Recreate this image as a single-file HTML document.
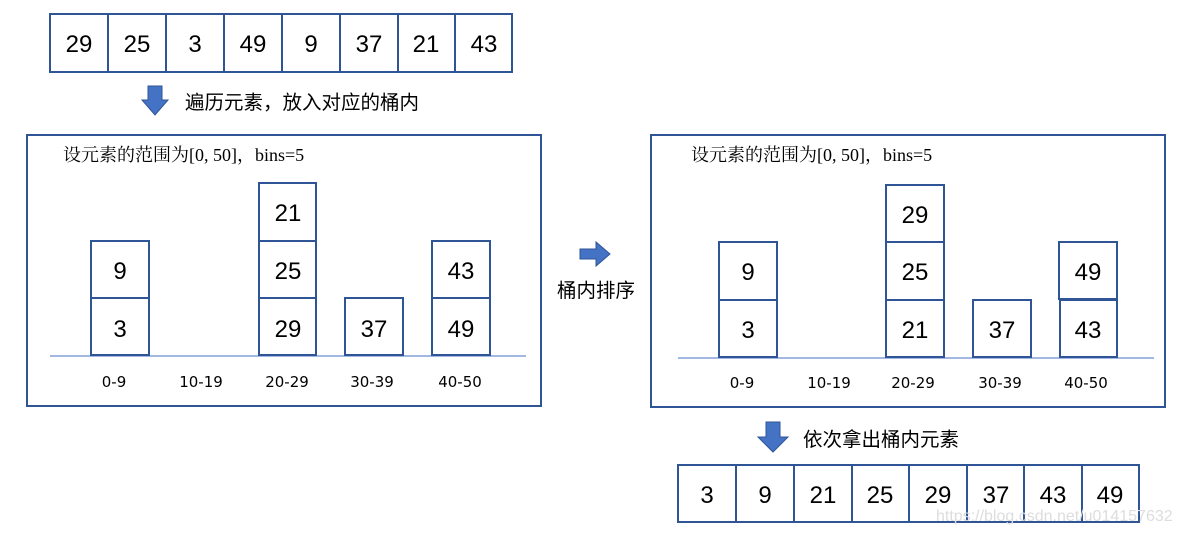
<!DOCTYPE html>
<html><head><meta charset="utf-8"><style>
html,body{margin:0;padding:0;background:#fff;}
svg{display:block;}
.n{font-family:"Liberation Sans",sans-serif;font-size:24px;fill:#000;text-anchor:middle;}
.l{font-family:"DejaVu Sans","Liberation Sans",sans-serif;font-size:15px;fill:#000;text-anchor:middle;}
.c{font-family:"Liberation Sans","Noto Sans CJK SC",sans-serif;font-size:19.5px;fill:#000;}
.t{font-family:"Liberation Serif","Noto Serif CJK SC",serif;font-size:18px;fill:#000;}
rect{fill:#fff;stroke:#2F5597;stroke-width:2;}
</style></head><body>
<svg width="1179" height="534" viewBox="0 0 1179 534" xmlns="http://www.w3.org/2000/svg">
<g>
<rect x="50" y="14" width="58" height="58"/><rect x="108" y="14" width="58" height="58"/><rect x="166" y="14" width="58" height="58"/><rect x="224" y="14" width="58" height="58"/><rect x="282" y="14" width="58" height="58"/><rect x="340" y="14" width="58" height="58"/><rect x="398" y="14" width="57" height="58"/><rect x="455" y="14" width="57" height="58"/>
<text class="n" x="79" y="52">29</text><text class="n" x="137" y="52">25</text><text class="n" x="195" y="52">3</text><text class="n" x="253" y="52">49</text><text class="n" x="311" y="52">9</text><text class="n" x="369" y="52">37</text><text class="n" x="426" y="52">21</text><text class="n" x="484" y="52">43</text>
</g>
<polygon points="148,86 162,86 162,100 168,100 155,115 142,100 148,100" fill="#4472C4" stroke="#2F5597" stroke-width="1"/>
<text class="c" x="185" y="109">遍历元素，放入对应的桶内</text>

<rect x="27" y="135" width="514" height="271"/>
<text class="t" x="63" y="161">设元素的范围为[0, 50]，bins=5</text>
<line x1="50" y1="356" x2="526" y2="356" stroke="#4472C4" stroke-width="1"/>
<rect x="91" y="241" width="58" height="57"/><rect x="91" y="298" width="58" height="57"/>
<rect x="259" y="183" width="57" height="58"/><rect x="259" y="241" width="57" height="57"/><rect x="259" y="298" width="57" height="57"/>
<rect x="345" y="298" width="58" height="57"/>
<rect x="432" y="241" width="58" height="57"/><rect x="432" y="298" width="58" height="57"/>
<text class="n" x="120" y="279">9</text><text class="n" x="120" y="337">3</text>
<text class="n" x="288" y="221">21</text><text class="n" x="288" y="279">25</text><text class="n" x="288" y="337">29</text>
<text class="n" x="374" y="337">37</text>
<text class="n" x="461" y="279">43</text><text class="n" x="461" y="337">49</text>
<text class="l" x="114" y="387">0-9</text><text class="l" x="201" y="387">10-19</text><text class="l" x="287" y="387">20-29</text><text class="l" x="372" y="387">30-39</text><text class="l" x="460" y="387">40-50</text>

<polygon points="580,249 596,249 596,242 610,254 596,266 596,259 580,259" fill="#4472C4" stroke="#2F5597" stroke-width="1"/>
<text class="c" x="596" y="297" text-anchor="middle">桶内排序</text>

<rect x="651" y="135" width="514" height="272"/>
<text class="t" x="691" y="161">设元素的范围为[0, 50]，bins=5</text>
<line x1="678" y1="358" x2="1154" y2="358" stroke="#4472C4" stroke-width="1"/>
<rect x="719" y="242" width="58" height="58"/><rect x="719" y="300" width="58" height="57"/>
<rect x="886" y="185" width="58" height="57"/><rect x="886" y="242" width="58" height="58"/><rect x="886" y="300" width="58" height="57"/>
<rect x="973" y="300" width="58" height="57"/>
<rect x="1059" y="242" width="58" height="57"/><rect x="1060" y="300" width="57" height="57"/>
<text class="n" x="748" y="280">9</text><text class="n" x="748" y="338">3</text>
<text class="n" x="915" y="223">29</text><text class="n" x="915" y="280">25</text><text class="n" x="915" y="338">21</text>
<text class="n" x="1002" y="338">37</text>
<text class="n" x="1088" y="280">49</text><text class="n" x="1088" y="338">43</text>
<text class="l" x="742" y="388">0-9</text><text class="l" x="829" y="388">10-19</text><text class="l" x="913" y="388">20-29</text><text class="l" x="1000" y="388">30-39</text><text class="l" x="1086" y="388">40-50</text>

<polygon points="766,422 780,422 780,437 788,437 773,452 758,437 766,437" fill="#4472C4" stroke="#2F5597" stroke-width="1"/>
<text class="c" x="803" y="446">依次拿出桶内元素</text>

<rect x="678" y="465" width="58" height="57"/><rect x="736" y="465" width="58" height="57"/><rect x="794" y="465" width="58" height="57"/><rect x="852" y="465" width="57" height="57"/><rect x="909" y="465" width="58" height="57"/><rect x="967" y="465" width="57" height="57"/><rect x="1024" y="465" width="58" height="57"/><rect x="1082" y="465" width="57" height="57"/>
<text class="n" x="707" y="503">3</text><text class="n" x="765" y="503">9</text><text class="n" x="823" y="503">21</text><text class="n" x="880" y="503">25</text><text class="n" x="938" y="503">29</text><text class="n" x="996" y="503">37</text><text class="n" x="1053" y="503">43</text><text class="n" x="1110" y="503">49</text>
<text x="936" y="521" font-family="Liberation Sans, sans-serif" font-size="16" fill="#ddd">https://blog.csdn.net/u014157632</text>
</svg>
</body></html>
